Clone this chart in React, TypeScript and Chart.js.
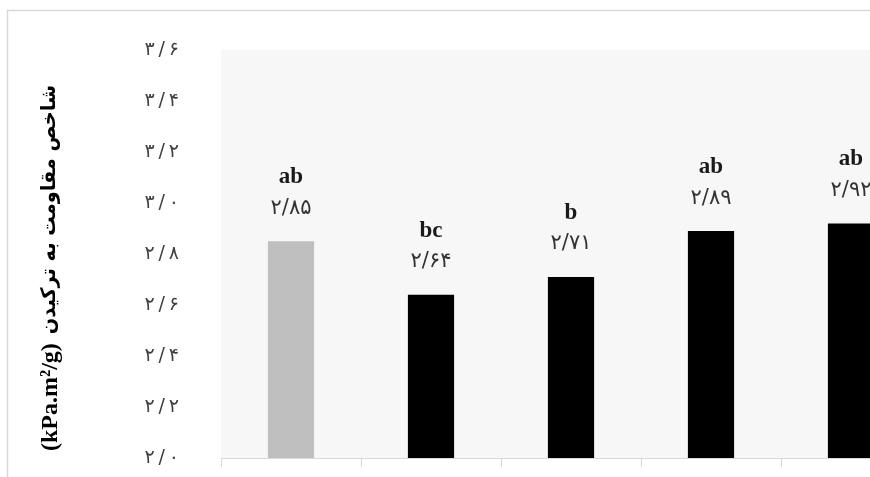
import React, { useEffect, useRef } from "react";
import { Chart, registerables } from "chart.js";

Chart.register(...registerables);

const categories = ["شاهد", "تیمار ۱", "تیمار ۲", "تیمار ۳", "تیمار ۴"];
const values = [2.85, 2.64, 2.71, 2.89, 2.92];
const groupLetters = ["ab", "bc", "b", "ab", "ab"];
const yMin = 2.0;
const yMax = 3.6;
const yStep = 0.2;
const yTitleUnit = "(kPa.m²/g)";
const yTitleText = "شاخص مقاومت به ترکیدن";

const GRAY_BAR = "#bfbfbf";
const BLACK_BAR = "#000000";
const barColors = values.map((_, i) => (i === 0 ? GRAY_BAR : BLACK_BAR));

const faDigits = "۰۱۲۳۴۵۶۷۸۹";
const toFa = (s: string, sep = "/") =>
  s.replace(/[0-9]/g, (d) => faDigits[Number(d)]).replace(/\./g, sep);

const decorPlugin = {
  id: "decor",
  beforeDraw(chart: any) {
    const { ctx, chartArea } = chart;
    ctx.save();
    ctx.fillStyle = "#f7f7f7";
    ctx.fillRect(chartArea.left, chartArea.top, chartArea.right - chartArea.left, chartArea.bottom - chartArea.top);
    ctx.strokeStyle = "#d9d9d9";
    ctx.lineWidth = 1.5;
    ctx.beginPath();
    ctx.moveTo(7.5, 480);
    ctx.lineTo(7.5, 10.5);
    ctx.lineTo(chart.width, 10.5);
    ctx.stroke();
    ctx.restore();
  },
  afterDraw(chart: any) {
    const { ctx } = chart;
    // y axis title (two runs, reading bottom to top)
    ctx.save();
    ctx.direction = "ltr";
    ctx.translate(50, 451);
    ctx.rotate(-Math.PI / 2);
    ctx.textAlign = "left";
    ctx.textBaseline = "middle";
    ctx.fillStyle = "#000000";
    ctx.font = 'bold 24px "Liberation Serif"';
    const unitW = ctx.measureText(yTitleUnit).width;
    ctx.fillText(yTitleUnit, 0, 1);
    ctx.font = 'bold 20px "DejaVu Sans"';
    const txtW = ctx.measureText(yTitleText).width;
    const avail = 451 - 85 - unitW - 9;
    const scale = Math.min(1, avail / txtW);
    ctx.save();
    ctx.translate(unitW + 9, 0);
    ctx.scale(scale, 1);
    ctx.fillText(yTitleText, 0, 0);
    ctx.restore();
    ctx.restore();

    const meta = chart.getDatasetMeta(0);
    meta.data.forEach((bar: any, i: number) => {
      const x = bar.x;
      const top = bar.y;
      ctx.save();
      ctx.textAlign = "center";
      ctx.textBaseline = "middle";
      ctx.fillStyle = "#1a1a1a";
      ctx.font = 'bold 23px "Liberation Serif"';
      ctx.fillText(groupLetters[i], x, top - 64);
      ctx.fillStyle = "#333333";
      ctx.font = '21px "DejaVu Sans"';
      ctx.fillText(toFa(values[i].toFixed(2)), x, top - 33);
      ctx.restore();
    });
  },
};

export default function App() {
  const ref = useRef<HTMLCanvasElement>(null);
  useEffect(() => {
    if (!ref.current) return;
    const chart = new Chart(ref.current, {
      type: "bar",
      data: {
        labels: categories,
        datasets: [
          {
            data: values,
            backgroundColor: barColors,
            borderWidth: 0,
            barPercentage: 0.33,
            categoryPercentage: 1,
          },
        ],
      },
      options: {
        responsive: false,
        animation: false,
        layout: { padding: { top: 50, left: 0, right: 19, bottom: 0 } },
        plugins: { legend: { display: false }, tooltip: { enabled: false } },
        scales: {
          x: {
            offset: true,
            grid: {
              display: true,
              offset: true,
              drawOnChartArea: false,
              drawTicks: true,
              tickLength: 9,
              color: "#d9d9d9",
            },
            border: { display: true, color: "#d9d9d9" },
            ticks: { display: false },
            afterFit: (s: any) => {
              s.height = 19;
            },
          },
          y: {
            min: yMin,
            max: yMax,
            grid: { display: false, drawTicks: true, tickLength: 42 },
            border: { display: false },
            ticks: {
              stepSize: yStep,
              padding: 0,
              color: "#404040",
              font: { family: "DejaVu Sans", size: 19 },
              callback: (v: any) => toFa(Number(v).toFixed(1), "\u2009/\u2009"),
            },
            afterFit: (s: any) => {
              s.width = 221;
            },
          },
        },
      },
      plugins: [decorPlugin],
    });
    return () => chart.destroy();
  }, []);
  return (
    <div
      style={{
        position: "fixed",
        left: 0,
        top: 0,
        width: 870,
        height: 477,
        overflow: "hidden",
        background: "#ffffff",
      }}
    >
      <canvas ref={ref} width={940} height={477} style={{ display: "block" }} />
    </div>
  );
}
